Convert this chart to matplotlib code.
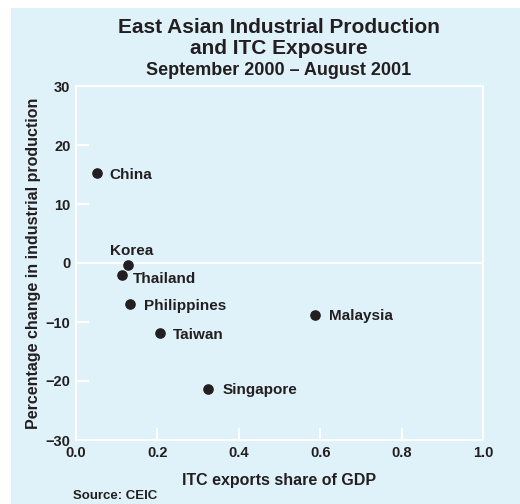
import numpy as np
import matplotlib.pyplot as plt
from matplotlib.patches import Rectangle

plt.rcParams['font.family'] = ['Liberation Sans', 'DejaVu Sans']
plt.rcParams['font.weight'] = 'bold'
plt.rcParams['axes.labelweight'] = 'bold'

countries = ['China', 'Korea', 'Thailand', 'Philippines', 'Taiwan', 'Singapore', 'Malaysia']
itc_share = [0.051, 0.127, 0.112, 0.133, 0.207, 0.325, 0.588]
prod_change = [15.3, -0.3, -2.0, -7.0, -11.8, -21.4, -8.8]

# label offsets in pixels (dx, dy), alignment
offsets = {'China': (13, -2, 'left'), 'Korea': (4, 14, 'center'),
           'Thailand': (11, -4, 'left'), 'Philippines': (14, -2, 'left'),
           'Taiwan': (13, -2, 'left'), 'Singapore': (14, -1, 'left'),
           'Malaysia': (14, -1, 'left')}

bg = '#dff1f9'
txt = '#231f20'

fig = plt.figure(figsize=(5.2, 5.04), dpi=100)
fig.patches.append(Rectangle((11/520, 0), 1, 1 - 8/504, transform=fig.transFigure,
                             facecolor=bg, edgecolor='none', zorder=-1))
ax = fig.add_axes([76/520, 1 - 440/504, (483-76)/520, (440-86)/504])
ax.set_facecolor(bg)

ax.scatter(itc_share, prod_change, s=44, color=txt, zorder=3)
for c, x, y in zip(countries, itc_share, prod_change):
    dx, dy, ha = offsets[c]
    ax.annotate(c, (x, y), xytext=(dx, dy), textcoords='offset pixels',
                ha=ha, va='center', fontsize=11, color=txt, fontweight='bold')

ax.axhline(0, color='white', lw=1.5, zorder=1)
ax.set_xlim(0, 1)
ax.set_ylim(-30, 30)
ax.set_xticks(np.arange(0, 1.01, 0.2))
ax.set_xticklabels(['0.0', '0.2', '0.4', '0.6', '0.8', '1.0'])
ax.set_yticks(np.arange(-30, 31, 10))
for s in ax.spines.values():
    s.set_color('white')
    s.set_linewidth(1.5)
ax.tick_params(direction='in', length=9, width=1.5, color='white',
               labelsize=10.5, labelcolor=txt, pad=4)

ax.set_xlabel('ITC exports share of GDP', fontsize=11.5, color=txt, labelpad=10)
ax.set_ylabel('Percentage change in industrial production', fontsize=11.5, color=txt, labelpad=3)

fig.text(279/520, 1 - 32.7/504, 'East Asian Industrial Production',
         ha='center', va='baseline', fontsize=15, color=txt)
fig.text(279/520, 1 - 54.3/504, 'and ITC Exposure',
         ha='center', va='baseline', fontsize=15, color=txt)
fig.text(279/520, 1 - 75/504, 'September 2000 \u2013 August 2001',
         ha='center', va='baseline', fontsize=13, color=txt)
fig.text(73/520, 1 - 496/504, 'Source: CEIC', ha='left', va='center',
         fontsize=9.5, color=txt)

fig.savefig('out.png', dpi=100, facecolor='white')
